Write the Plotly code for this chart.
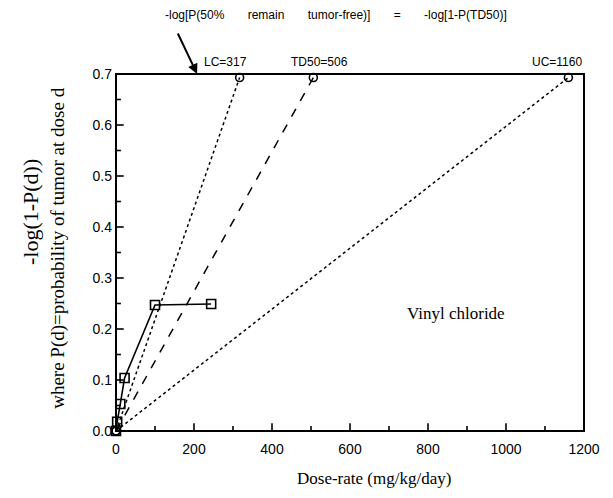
import plotly.graph_objects as go

# ---- data ----
obs_dose = [0, 3, 11, 22, 100, 244]
obs_logp = [0.0, 0.018, 0.053, 0.104, 0.247, 0.249]

y_half = 0.693  # -log(0.5)
lc_dose = [0, 317]
td50_dose = [0, 506]
uc_dose = [0, 1160]
ref_logp = [0.0, y_half]

top_labels = ["LC=317", "TD50=506", "UC=1160"]
top_label_x = [280, 521, 1131]

x_range = [0, 1200]
y_range = [0, 0.7]
x_major = [0, 200, 400, 600, 800, 1000, 1200]
x_minor = [100, 300, 500, 700, 900, 1100]
y_major = [0.0, 0.1, 0.2, 0.3, 0.4, 0.5, 0.6, 0.7]
y_minor = [0.05, 0.15, 0.25, 0.35, 0.45, 0.55, 0.65]

serif = "Liberation Serif, Times New Roman, serif"
sans = "Liberation Sans, Arial, Helvetica, sans-serif"

fig = go.Figure()

# inside tick marks: line markers sitting on the axes, clipped to the plot area
for vals, size in ((x_major, 11), (x_minor, 7)):
    fig.add_trace(go.Scatter(x=vals, y=[y_range[0]] * len(vals), mode="markers",
                             marker=dict(symbol="line-ns-open", size=size, color="black",
                                         line=dict(width=1.6, color="black")),
                             cliponaxis=True, hoverinfo="skip", showlegend=False))
for vals, size in ((y_major, 11), (y_minor, 7)):
    fig.add_trace(go.Scatter(x=[x_range[0]] * len(vals), y=vals, mode="markers",
                             marker=dict(symbol="line-ew-open", size=size, color="black",
                                         line=dict(width=1.6, color="black")),
                             cliponaxis=True, hoverinfo="skip", showlegend=False))

circle = dict(symbol="circle-open", size=8, color="black", line=dict(width=1.6, color="black"))
fig.add_trace(go.Scatter(x=lc_dose, y=ref_logp, mode="lines+markers",
                         line=dict(color="black", width=1.5, dash="dot"),
                         marker=circle, cliponaxis=False, showlegend=False))
fig.add_trace(go.Scatter(x=td50_dose, y=ref_logp, mode="lines+markers",
                         line=dict(color="black", width=1.5, dash="dash"),
                         marker=circle, cliponaxis=False, showlegend=False))
fig.add_trace(go.Scatter(x=uc_dose, y=ref_logp, mode="lines+markers",
                         line=dict(color="black", width=1.5, dash="dot"),
                         marker=circle, cliponaxis=False, showlegend=False))
fig.add_trace(go.Scatter(x=obs_dose, y=obs_logp, mode="lines+markers",
                         line=dict(color="black", width=1.6),
                         marker=dict(symbol="square-open", size=9, color="black",
                                     line=dict(width=1.6, color="black")),
                         cliponaxis=False, showlegend=False))

annotations = []
for lab, xv in zip(top_labels, top_label_x):
    annotations.append(dict(x=xv, y=0.7, xref="x", yref="y", text=lab, showarrow=False,
                            yanchor="middle", yshift=12,
                            font=dict(family=sans, size=12, color="black")))

nb = "\u00a0"
gap = nb * 7
title_txt = "-log[P(50%" + gap + "remain" + gap + "tumor-free)]" + gap + "=" + gap + "-log[1-P(TD50)]"
annotations.append(dict(x=0.470, y=1.165, xref="paper", yref="paper", text=title_txt,
                        showarrow=False, yanchor="middle",
                        font=dict(family=sans, size=12, color="black")))
annotations.append(dict(x=208, y=0.7, xref="x", yref="y", text="", showarrow=True,
                        ax=-20, ay=-42, arrowhead=2, arrowsize=1, arrowwidth=2,
                        arrowcolor="black"))
annotations.append(dict(x=872, y=0.231, xref="x", yref="y", text="Vinyl chloride",
                        showarrow=False, yanchor="middle",
                        font=dict(family=serif, size=17, color="black")))
annotations.append(dict(x=0.551, y=-0.132, xref="paper", yref="paper",
                        text="Dose-rate (mg/kg/day)", showarrow=False, yanchor="middle",
                        font=dict(family=serif, size=17, color="black")))
annotations.append(dict(x=-0.184, y=0.613, xref="paper", yref="paper",
                        text="-log(1-P(d))", showarrow=False, textangle=-90,
                        xanchor="center", yanchor="middle",
                        font=dict(family=serif, size=22, color="black")))
annotations.append(dict(x=-0.124, y=0.513, xref="paper", yref="paper",
                        text="where P(d)=probability of tumor at dose d", showarrow=False,
                        textangle=-90, xanchor="center", yanchor="middle",
                        font=dict(family=serif, size=19, color="black")))

# frame drawn as a shape so that all four sides show
fig.add_shape(type="rect", xref="paper", yref="paper", x0=0, y0=0, x1=1, y1=1,
              line=dict(color="black", width=2), layer="above")

fig.update_layout(
    width=605, height=490,
    margin=dict(l=108, r=29, t=66, b=67, pad=0),
    paper_bgcolor="white", plot_bgcolor="white",
    showlegend=False,
    annotations=annotations,
    xaxis=dict(range=x_range, tickmode="array", tickvals=x_major, ticks="",
               showgrid=False, zeroline=False, showline=False,
               ticklabelstandoff=8,
               tickfont=dict(family=sans, size=14, color="black")),
    yaxis=dict(range=y_range, tickmode="array", tickvals=y_major, tickformat=".1f",
               ticks="", showgrid=False, zeroline=False, showline=False,
               ticklabelstandoff=3,
               tickfont=dict(family=sans, size=14, color="black")),
)

fig.write_html("out.html")
